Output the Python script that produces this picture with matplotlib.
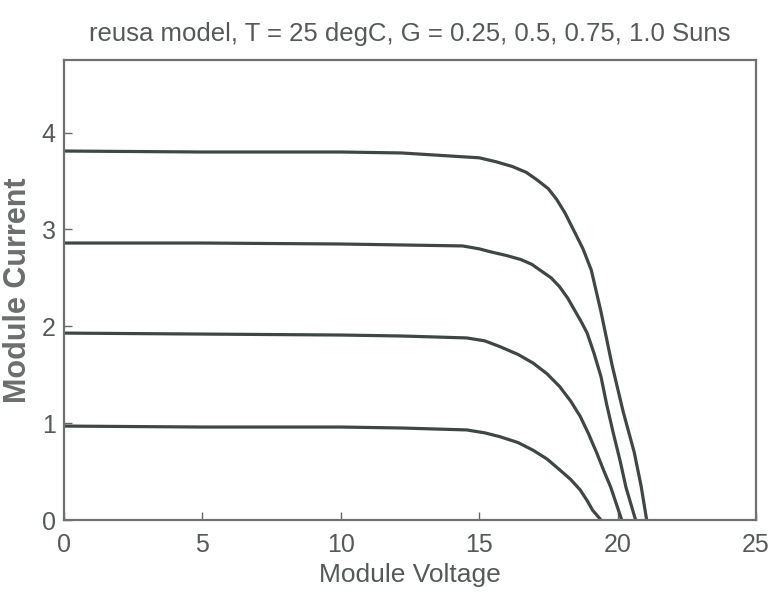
import matplotlib
matplotlib.use("Agg")
import matplotlib.pyplot as plt

title = "reusa model, T = 25 degC, G = 0.25, 0.5, 0.75, 1.0 Suns"
xlabel = "Module Voltage"
ylabel = "Module Current"
xticks = [0, 5, 10, 15, 20, 25]
yticks = [0, 1, 2, 3, 4]

# 1.0 sun
v_100 = [0, 5, 10, 12.2, 15.0, 15.6, 16.2, 16.7, 17.1, 17.5, 17.8, 18.1, 18.4,
         18.75, 19.05, 19.4, 19.8, 20.2, 20.6, 20.85, 21.05]
i_100 = [3.81, 3.80, 3.80, 3.79, 3.74, 3.70, 3.65, 3.59, 3.51, 3.42, 3.31, 3.17, 3.00,
         2.80, 2.58, 2.15, 1.60, 1.12, 0.70, 0.35, 0.0]
# 0.75 sun
v_075 = [0, 5, 10, 12.2, 14.4, 15.0, 15.4, 16.0, 16.5, 16.9, 17.2, 17.6, 17.9, 18.2,
         18.5, 18.7, 18.9, 19.15, 19.4, 19.6, 19.85, 20.1, 20.3, 20.65]
i_075 = [2.86, 2.86, 2.85, 2.84, 2.83, 2.80, 2.77, 2.73, 2.69, 2.64, 2.58, 2.50, 2.41, 2.29,
         2.14, 2.04, 1.93, 1.72, 1.48, 1.20, 0.89, 0.60, 0.34, 0.0]
# 0.5 sun
v_050 = [0, 5, 10, 12.2, 14.55, 15.2, 15.75, 16.4, 16.95, 17.45, 17.9, 18.3, 18.65,
         18.95, 19.25, 19.5, 19.75, 20.15]
i_050 = [1.93, 1.92, 1.91, 1.90, 1.88, 1.85, 1.79, 1.71, 1.62, 1.51, 1.38, 1.23, 1.07,
         0.89, 0.69, 0.51, 0.34, 0.0]
# 0.25 sun
v_025 = [0, 5, 10, 12.2, 14.55, 15.2, 15.75, 16.4, 16.95, 17.45, 17.9, 18.3, 18.65,
         18.9, 19.1, 19.4]
i_025 = [0.97, 0.96, 0.96, 0.95, 0.93, 0.90, 0.86, 0.80, 0.72, 0.63, 0.52, 0.42, 0.31,
         0.20, 0.10, 0.0]

series = [(v_100, i_100), (v_075, i_075), (v_050, i_050), (v_025, i_025)]

text_color = "#555a58"
line_color = "#3d4845"
sans = ["Liberation Sans", "DejaVu Sans"]

fig = plt.figure(figsize=(7.69, 6.05), dpi=100)
ax = fig.add_axes([64 / 769, 1 - 520 / 605, 692 / 769, 460 / 605])

for v, i in series:
    ax.plot(v, i, color=line_color, linewidth=2.3, solid_capstyle="butt",
            solid_joinstyle="round")

ax.set_xlim(0, 25)
ax.set_ylim(0, 4.75)
ax.set_xticks(xticks)
ax.set_yticks(yticks)
ax.set_xticklabels([str(t) for t in xticks], family=sans, fontsize=18, color=text_color)
ax.set_yticklabels([str(t) for t in yticks], family=sans, fontsize=18, color=text_color)
ax.tick_params(axis="x", direction="in", length=6, width=1, color="#666666", pad=9)
ax.tick_params(axis="y", direction="in", length=6, width=1, color="#666666", pad=6)

for s in ax.spines.values():
    s.set_color("#707070")
    s.set_linewidth(1.6)

ax.set_title(title, family=sans, fontsize=18.5, color=text_color, pad=14)
ax.set_xlabel(xlabel, family=sans, fontsize=19, color=text_color, labelpad=5)
ax.set_ylabel(ylabel, family=sans, fontsize=22, fontweight="bold",
              color="#6a6e6c", labelpad=6)

fig.savefig("out.png", dpi=100, facecolor="white")
